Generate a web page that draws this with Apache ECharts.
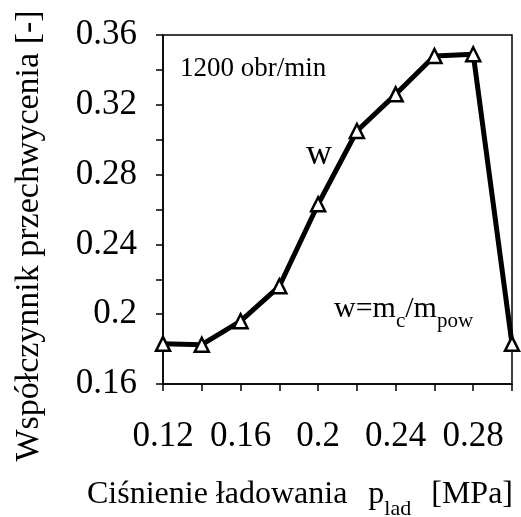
<!DOCTYPE html>
<html>
<head>
<meta charset="utf-8">
<script src="https://cdn.jsdelivr.net/npm/echarts@6/dist/echarts.min.js"></script>
<style>
html,body{margin:0;padding:0;background:#fff;}
#chart{width:521px;height:517px;}
</style>
</head>
<body>
<div id="chart"></div>
<script>
// Data
const pressure = [0.12, 0.14, 0.16, 0.18, 0.20, 0.22, 0.24, 0.26, 0.28, 0.30];
const wValues = [0.183, 0.1825, 0.196, 0.216, 0.263, 0.305, 0.326, 0.348, 0.349, 0.183];
const xTicks = { min: 0.12, max: 0.30, step: 0.02 };
const yTicks = { min: 0.16, max: 0.36, step: 0.02 };
const xTickLabels = ['0.12', '0.16', '0.2', '0.24', '0.28'];
const yTickLabels = ['0.16', '0.2', '0.24', '0.28', '0.32', '0.36'];
const xTitle = ['Ciśnienie ładowania', 'p', 'lad', '[MPa]'];
const yTitle = 'Współczynnik przechwycenia [-]';
const speedLabel = '1200 obr/min';
const seriesLabel = 'w';
const formula = ['w=m', 'c', '/m', 'pow'];

const FONT = '"Liberation Serif", "Times New Roman", serif';
const chart = echarts.init(document.getElementById('chart'), null, { renderer: 'canvas' });

function makeFmt(labels) {
  return function (v) {
    const s = String(+v.toFixed(2));
    return labels.indexOf(s) >= 0 ? s : '';
  };
}

const option = {
  backgroundColor: '#fff',
  animation: false,
  grid: { left: 163, right: 9, top: 35, bottom: 133, show: true, borderColor: '#000', borderWidth: 1.5, backgroundColor: 'transparent' },
  xAxis: {
    type: 'value', min: xTicks.min, max: xTicks.max, interval: xTicks.step,
    axisLine: { show: true, onZero: false, lineStyle: { color: '#000', width: 1.5 } },
    axisTick: { show: true, inside: false, length: 7, lineStyle: { color: '#000', width: 1.5 } },
    splitLine: { show: false },
    axisLabel: { interval: 0, margin: 35, color: '#000', fontFamily: FONT, fontSize: 35, formatter: makeFmt(xTickLabels), showMaxLabel: true, showMinLabel: true }
  },
  yAxis: {
    type: 'value', min: yTicks.min, max: yTicks.max, interval: yTicks.step,
    axisLine: { show: true, onZero: false, lineStyle: { color: '#000', width: 1.5 } },
    axisTick: { show: true, inside: false, length: 7, lineStyle: { color: '#000', width: 1.5 } },
    splitLine: { show: false },
    axisLabel: { interval: 0, margin: 26, color: '#000', fontFamily: FONT, fontSize: 35, formatter: makeFmt(yTickLabels), showMaxLabel: true, showMinLabel: true }
  },
  series: [{
    type: 'line',
    data: pressure.map((x, i) => [x, wValues[i]]),
    lineStyle: { color: '#000', width: 5 },
    symbol: 'triangle',
    symbolSize: 14,
    itemStyle: { color: '#fff', borderColor: '#000', borderWidth: 2.5 },
    z: 3
  }],
  graphic: [
    {
      type: 'text', x: 29, y: 236, rotation: Math.PI / 2,
      style: { text: yTitle, fill: '#000', font: '34px ' + FONT, align: 'center', verticalAlign: 'middle' }
    },
    {
      type: 'text', x: 300, y: 479,
      style: {
        text: '{a|' + xTitle[0] + '}{p|' + xTitle[1] + '}{s|' + xTitle[2] + '}{m|' + xTitle[3] + '}',
        align: 'center', verticalAlign: 'top', fill: '#000',
        rich: {
          a: { fontFamily: FONT, fontSize: 32, lineHeight: 36, verticalAlign: 'top', fill: '#000' },
          p: { fontFamily: FONT, fontSize: 32, lineHeight: 36, verticalAlign: 'top', padding: [0, 0, 0, 21], fill: '#000' },
          s: { fontFamily: FONT, fontSize: 22, lineHeight: 22, verticalAlign: 'top', padding: [19, 0, 0, 0], fill: '#000' },
          m: { fontFamily: FONT, fontSize: 32, lineHeight: 36, verticalAlign: 'top', padding: [0, 0, 0, 20], fill: '#000' }
        }
      }
    },
    {
      type: 'text', x: 180, y: 69,
      style: { text: speedLabel, fill: '#000', font: '27px ' + FONT, align: 'left', verticalAlign: 'middle' }
    },
    {
      type: 'text', x: 319, y: 155,
      style: { text: seriesLabel, fill: '#000', font: '36px ' + FONT, align: 'center', verticalAlign: 'middle' }
    },
    {
      type: 'text', x: 334, y: 294,
      style: {
        text: '{a|' + formula[0] + '}{b|' + formula[1] + '}{a|' + formula[2] + '}{b|' + formula[3] + '}',
        align: 'left', verticalAlign: 'top', fill: '#000',
        rich: {
          a: { fontFamily: FONT, fontSize: 30, lineHeight: 34, verticalAlign: 'top', fill: '#000' },
          b: { fontFamily: FONT, fontSize: 21, lineHeight: 21, verticalAlign: 'top', padding: [17, 0, 0, 0], fill: '#000' }
        }
      }
    }
  ]
};
chart.setOption(option);
</script>
</body>
</html>
